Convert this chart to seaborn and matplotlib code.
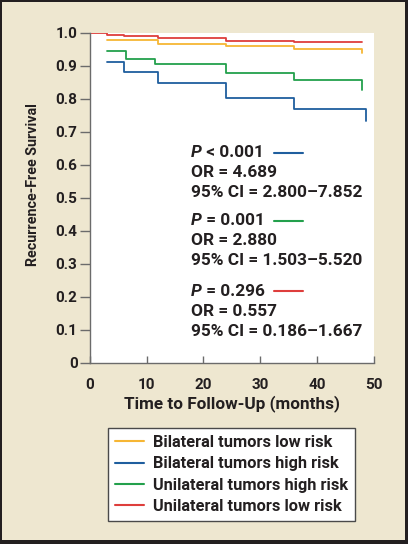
import matplotlib
matplotlib.use("Agg")
import matplotlib.pyplot as plt
from matplotlib.patches import Rectangle
from matplotlib.lines import Line2D
import seaborn as sns
import pandas as pd

# ---- data ----
series_names = ["Bilateral tumors low risk", "Bilateral tumors high risk",
                "Unilateral tumors high risk", "Unilateral tumors low risk"]
bil_low_t = [3, 12, 24, 36, 48]
bil_low_s = [0.976, 0.964, 0.958, 0.950, 0.938]
bil_high_t = [3, 6, 12, 24, 36, 48.6]
bil_high_s = [0.911, 0.880, 0.847, 0.803, 0.767, 0.733]
uni_high_t = [3, 6.3, 11.5, 24, 36, 48]
uni_high_s = [0.944, 0.920, 0.904, 0.876, 0.855, 0.827]
uni_low_t = [0, 3, 6, 12, 24, 36, 48]
uni_low_s = [1.0, 0.993, 0.990, 0.983, 0.975, 0.972, 0.972]

x_ticks = [0, 10, 20, 30, 40, 50]
y_ticks = [0, 0.1, 0.2, 0.3, 0.4, 0.5, 0.6, 0.7, 0.8, 0.9, 1.0]
y_tick_labels = ["0", "0.1", "0.2", "0.3", "0.4", "0.5", "0.6", "0.7", "0.8", "0.9", "1.0"]

stats = [
    ("P", " < 0.001", "OR = 4.689", "95% CI = 2.800\u20137.852"),
    ("P", " = 0.001", "OR = 2.880", "95% CI = 1.503\u20135.520"),
    ("P", " = 0.296", "OR = 0.557", "95% CI = 0.186\u20131.667"),
]
stat_colors_idx = [1, 2, 3]

colors = ["#F6B634", "#1F5E9E", "#23A04C", "#DE3E3C"]

frames = []
for name, t, s in zip(series_names,
                      [bil_low_t, bil_high_t, uni_high_t, uni_low_t],
                      [bil_low_s, bil_high_s, uni_high_s, uni_low_s]):
    frames.append(pd.DataFrame({"time": t, "surv": s, "group": name}))
df = pd.concat(frames, ignore_index=True)

# ---- figure ----
sns.set_theme(style="white")
plt.rcParams["font.family"] = ["Roboto", "DejaVu Sans"]
plt.rcParams["font.weight"] = "bold"
WT = "bold"
TXT = "#231f20"

BG = "#EEE7D0"
W, H = 408, 544
fig = plt.figure(figsize=(W / 100, H / 100), dpi=100, facecolor=BG)
ax = fig.add_axes([90 / W, 1 - 362.7 / H, (373.5 - 90) / W, (362.7 - 32.5) / H])
ax.set_facecolor("white")

order = [3, 0, 2, 1]
for i in order:
    sub = df[df["group"] == series_names[i]]
    sns.lineplot(data=sub, x="time", y="surv", ax=ax, color=colors[i],
                 drawstyle="steps-post", estimator=None, linewidth=1.3,
                 legend=False)

ax.set_xlim(0, 50)
ax.set_ylim(0, 1.0)
ax.set_xticks(x_ticks)
ax.set_xticklabels([str(v) for v in x_ticks])
ax.set_yticks(y_ticks)
ax.set_yticklabels(y_tick_labels)

for side in ["top", "right"]:
    ax.spines[side].set_visible(False)
for side in ["left", "bottom"]:
    ax.spines[side].set_color("#6b6b6b")
    ax.spines[side].set_linewidth(1.0)
    ax.spines[side].set_zorder(5)

ax.tick_params(axis="y", direction="out", length=7, width=1.0, color="#6b6b6b",
               labelsize=11, pad=2, left=True)
ax.tick_params(axis="x", direction="in", length=5, width=1.0, color="#6b6b6b",
               labelsize=11, pad=11, bottom=True)
for lab in ax.get_xticklabels() + ax.get_yticklabels():
    lab.set_fontweight(WT)
    lab.set_color(TXT)

ax.set_xlabel("Time to Follow-Up (months)", fontsize=12.3, fontweight=WT,
              color=TXT, labelpad=2)
ax.set_ylabel("Recurrence-Free Survival", fontsize=10.3, fontweight=WT,
              color=TXT)
ax.yaxis.set_label_coords(-0.175, 0.538)
ax.grid(False)

# ---- statistics text ----
FS = 12.4
txt_kw = dict(fontsize=FS, fontweight=WT, color=TXT,
              transform=fig.transFigure, va="center", ha="left")
group_top = [152.7, 220.5, 291.0]
x0 = 191 / W
for g, (p, rest, orl, cil) in enumerate(stats):
    y1 = 1 - group_top[g] / H
    pt = fig.text(x0, y1, p, style="italic", **txt_kw)
    fig.canvas.draw()
    ax.annotate(rest, xy=(1, 0.5), xycoords=pt, va="center", ha="left",
                fontsize=FS, fontweight=WT, color=TXT)
    fig.text(x0, 1 - (group_top[g] + 20) / H, orl, **txt_kw)
    fig.text(x0, 1 - (group_top[g] + 40) / H, cil, **txt_kw)
    fig.add_artist(Line2D([274 / W, 303 / W], [y1, y1], transform=fig.transFigure,
                          color=colors[stat_colors_idx[g]], linewidth=1.5))

# ---- legend ----
handles = [Line2D([0], [0], color=c, linewidth=1.5) for c in colors]
leg = fig.legend(handles, series_names, loc="center",
                 bbox_to_anchor=(231.5 / W, 1 - 474.5 / H),
                 frameon=True, fancybox=False, framealpha=1.0,
                 prop={"size": 11.8, "weight": WT},
                 handlelength=1.75, handletextpad=0.55, labelspacing=0.38,
                 borderpad=0.45, borderaxespad=0)
leg.get_frame().set_edgecolor("#4a4a4a")
leg.get_frame().set_linewidth(1.0)
for t in leg.get_texts():
    t.set_color(TXT)

# ---- border ----
bc = "#231f20"
for (x, y, w, h) in [(0, 0, 2, H), (0, 0, W, 4), (W - 3, 0, 3, H), (0, H - 2, W, 2)]:
    fig.add_artist(Rectangle((x / W, y / H), w / W, h / H, transform=fig.transFigure,
                             facecolor=bc, edgecolor="none"))

fig.savefig("out.png", dpi=100, facecolor=BG)
